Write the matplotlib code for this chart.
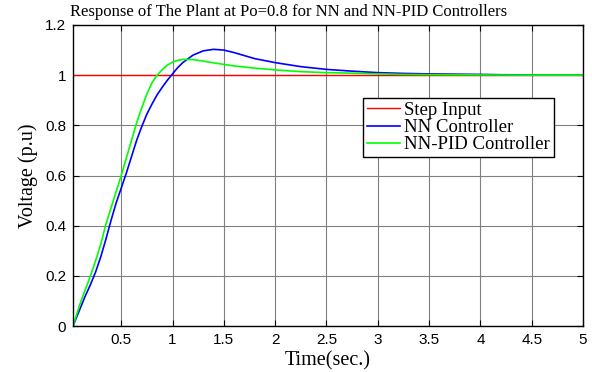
import matplotlib
matplotlib.use("Agg")
import matplotlib.pyplot as plt
from matplotlib.ticker import FuncFormatter

# ---- data ----
t = [0.03, 0.1, 0.15, 0.2, 0.25, 0.3, 0.35, 0.4, 0.45, 0.5, 0.55, 0.6, 0.65,
     0.7, 0.75, 0.8, 0.85, 0.9, 0.95, 1.0, 1.05, 1.1, 1.2, 1.3, 1.4,
     1.5, 1.6, 1.8, 2.0, 2.25, 2.5, 2.75, 3.0, 3.25, 3.5, 4.0, 4.5, 5.0]
nn = [0.0, 0.07, 0.12, 0.165, 0.215, 0.275, 0.345, 0.42, 0.49, 0.55, 0.61,
      0.675, 0.74, 0.795, 0.845, 0.885, 0.922, 0.952, 0.98, 1.005, 1.03, 1.05,
      1.08, 1.097, 1.103, 1.10, 1.09, 1.066, 1.05, 1.034, 1.023, 1.016, 1.01,
      1.007, 1.005, 1.003, 1.0, 1.0]
nn_pid = [0.0, 0.09, 0.145, 0.2, 0.26, 0.325, 0.405, 0.47, 0.535, 0.6, 0.67,
          0.74, 0.81, 0.87, 0.925, 0.97, 1.0, 1.022, 1.04, 1.052, 1.059,
          1.063, 1.062, 1.056, 1.049, 1.043, 1.037, 1.028, 1.021, 1.014, 1.010,
          1.008, 1.005, 1.003, 1.002, 1.001, 1.0, 1.0]
step_t = [0.03, 5.0]
step_y = [1.0, 1.0]

xticks = [0.5, 1, 1.5, 2, 2.5, 3, 3.5, 4, 4.5, 5]
yticks = [0, 0.2, 0.4, 0.6, 0.8, 1.0, 1.2]

title = "Response of The Plant at Po=0.8 for NN and NN-PID Controllers"
xlabel = "Time(sec.)"
ylabel = "Voltage (p.u)"
labels = ["Step Input", "NN Controller", "NN-PID Controller"]

serif = ["Liberation Serif", "DejaVu Serif"]
sans = ["Liberation Sans", "DejaVu Sans"]

fig = plt.figure(figsize=(5.92, 3.72), dpi=100)
ax = fig.add_axes([73/592, 1-326/372, 510/592, 301/372])

ax.plot(step_t, step_y, color="#ff0000", lw=1.0, label=labels[0])
ax.plot(t, nn, color="#0000ff", lw=1.2, label=labels[1])
ax.plot(t, nn_pid, color="#00ff00", lw=1.2, label=labels[2])

ax.set_xlim(0.03, 5)
ax.set_ylim(0, 1.2)
ax.set_xticks(xticks)
ax.set_yticks(yticks)
fmt = FuncFormatter(lambda v, p: ("%g" % v))
ax.xaxis.set_major_formatter(fmt)
ax.yaxis.set_major_formatter(fmt)
ax.grid(True, color="#808080", lw=0.8, ls="-")
ax.tick_params(direction="in", top=True, right=True, length=4, width=0.8,
               labelsize=11, pad=5)
for lab in ax.get_xticklabels() + ax.get_yticklabels():
    lab.set_fontfamily(sans)
for s in ax.spines.values():
    s.set_linewidth(1.0)
    s.set_color("black")

fig.text(289/592, 1-12/372, title, fontfamily=serif, fontsize=12,
         ha="center", va="center")
ax.set_xlabel(xlabel, fontfamily=serif, fontsize=14.5, labelpad=3)
ax.set_ylabel(ylabel, fontfamily=serif, fontsize=14.5, labelpad=5)

leg = ax.legend(loc="upper left", bbox_to_anchor=(0.5686, 0.757),
                borderaxespad=0, prop={"family": serif, "size": 13.5},
                fancybox=False, framealpha=1, edgecolor="black",
                handlelength=1.8, handletextpad=0.2, labelspacing=0.0,
                borderpad=0.2)
leg.get_frame().set_linewidth(1.0)

fig.savefig("out.png", dpi=100)
